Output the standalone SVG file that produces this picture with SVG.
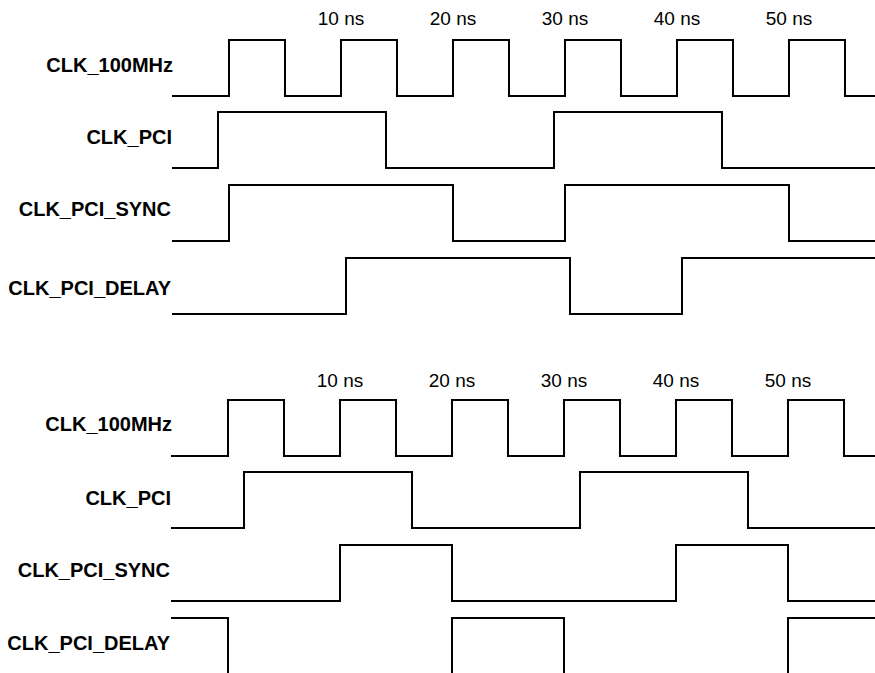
<svg xmlns="http://www.w3.org/2000/svg" width="875" height="673" viewBox="0 0 875 673">
<style>
.sig{fill:none;stroke:#000;stroke-width:2;stroke-linejoin:miter;stroke-linecap:butt}
.lbl{font-family:"Liberation Sans",Arial,sans-serif;font-weight:bold;font-size:20px;fill:#000;text-anchor:end}
.t{font-family:"Liberation Sans",Arial,sans-serif;font-size:19px;fill:#000;text-anchor:middle}
</style>
<rect width="875" height="673" fill="#fff"/>
<g id="top-time-axis">
<text class="t" x="341" y="25">10 ns</text>
<text class="t" x="453" y="25">20 ns</text>
<text class="t" x="565" y="25">30 ns</text>
<text class="t" x="677" y="25">40 ns</text>
<text class="t" x="789" y="25">50 ns</text>
</g>
<g id="top-clk100">
<text class="lbl" x="173" y="72">CLK_100MHz</text>
<path class="sig" d="M172,96 H229 V40 H285 V96 H341 V40 H397 V96 H453 V40 H509 V96 H565 V40 H621 V96 H677 V40 H733 V96 H789 V40 H845 V96 H875"/>
</g>
<g id="top-clkpci">
<text class="lbl" x="172" y="144">CLK_PCI</text>
<path class="sig" d="M172,168 H218 V112 H386 V168 H554 V112 H722 V168 H875"/>
</g>
<g id="top-clkpcisync">
<text class="lbl" x="171" y="216">CLK_PCI_SYNC</text>
<path class="sig" d="M172,241 H229 V185 H453 V241 H565 V185 H789 V241 H875"/>
</g>
<g id="top-clkpcidelay">
<text class="lbl" x="171" y="295">CLK_PCI_DELAY</text>
<path class="sig" d="M172,314 H346 V258 H570 V314 H682 V258 H875"/>
</g>
<g id="bottom-time-axis">
<text class="t" x="340" y="387">10 ns</text>
<text class="t" x="452" y="387">20 ns</text>
<text class="t" x="564" y="387">30 ns</text>
<text class="t" x="676" y="387">40 ns</text>
<text class="t" x="788" y="387">50 ns</text>
</g>
<g id="bottom-clk100">
<text class="lbl" x="172" y="431">CLK_100MHz</text>
<path class="sig" d="M171,456 H228 V400 H284 V456 H340 V400 H396 V456 H452 V400 H508 V456 H564 V400 H620 V456 H676 V400 H732 V456 H788 V400 H844 V456 H875"/>
</g>
<g id="bottom-clkpci">
<text class="lbl" x="171" y="505">CLK_PCI</text>
<path class="sig" d="M171,528 H244 V472 H412 V528 H580 V472 H748 V528 H875"/>
</g>
<g id="bottom-clkpcisync">
<text class="lbl" x="170" y="577">CLK_PCI_SYNC</text>
<path class="sig" d="M171,601 H340 V545 H452 V601 H676 V545 H788 V601 H875"/>
</g>
<g id="bottom-clkpcidelay">
<text class="lbl" x="170" y="650">CLK_PCI_DELAY</text>
<path class="sig" d="M171,618 H228 V676 M452,676 V618 H564 V676 M788,676 V618 H875"/>
</g>
</svg>
